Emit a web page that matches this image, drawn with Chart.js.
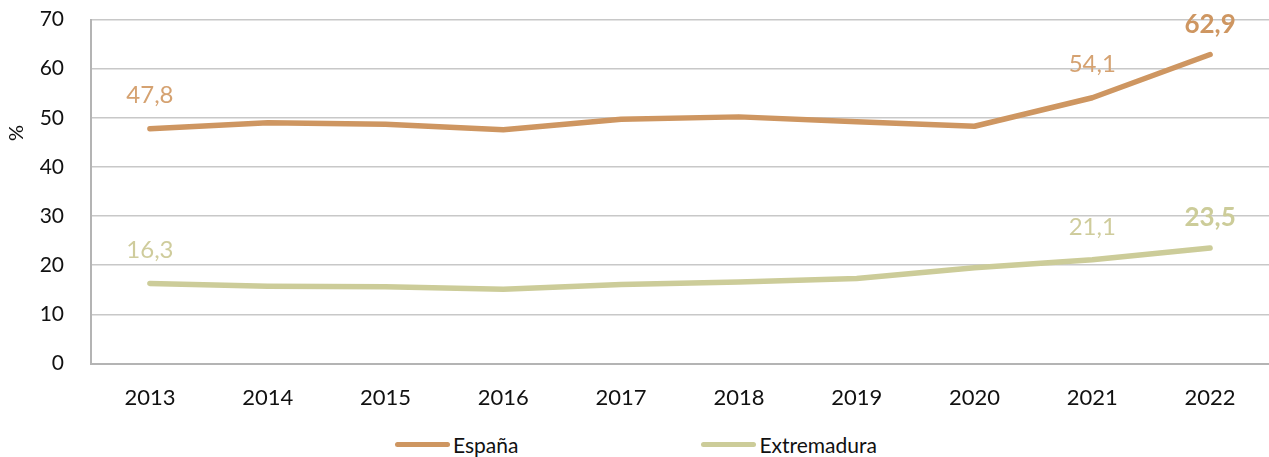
<!DOCTYPE html>
<html>
<head>
<meta charset="utf-8">
<script src="https://cdn.jsdelivr.net/npm/chart.js@4/dist/chart.umd.min.js"></script>
<style>
  body { margin: 0; background: #fff; font-family: Lato, sans-serif; overflow: hidden; }
  #wrap { position: relative; width: 1269px; height: 444px; margin-top: -20px; }
  #legend { display: flex; height: 40px; align-items: center; padding-left: 395px; font-size: 21px; color: #111; }
  .item { display: flex; align-items: center; }
  .swatch { width: 55px; height: 5px; border-radius: 3px; margin-right: 3px; }
</style>
</head>
<body>
<div id="wrap"><canvas id="myChart"></canvas></div>
<div id="legend"></div>
<script>
const years = ['2013', '2014', '2015', '2016', '2017', '2018', '2019', '2020', '2021', '2022'];
const espana = [47.8, 49.0, 48.7, 47.6, 49.7, 50.2, 49.2, 48.3, 54.1, 62.9];
const extremadura = [16.3, 15.7, 15.6, 15.1, 16.1, 16.6, 17.3, 19.5, 21.1, 23.5];
const yTicks = [0, 10, 20, 30, 40, 50, 60, 70];
// years that carry a value label, the last one in bold
const labelled = [0, 8, 9];

const series = [
    { label: 'España', data: espana, color: '#CE9661', text: '#D5A271' },
    { label: 'Extremadura', data: extremadura, color: '#CCCC99', text: '#CFCC9C' }
];

// value labels above the chosen points
const valueLabels = {
    id: 'valueLabels',
    afterDatasetsDraw(chart) {
        const ctx = chart.ctx;
        ctx.save();
        ctx.textAlign = 'center';
        ctx.textBaseline = 'middle';
        chart.data.datasets.forEach((ds, i) => {
            const meta = chart.getDatasetMeta(i);
            labelled.forEach(idx => {
                const pt = meta.data[idx];
                const last = idx === ds.data.length - 1;
                ctx.font = (last ? 'bold 26px' : '24px') + ' Lato, sans-serif';
                ctx.fillStyle = last ? ds.borderColor : series[i].text;
                const txt = ds.data[idx].toFixed(1).replace('.', ',');
                ctx.fillText(txt, pt.x, pt.y - (last ? 30 : 33));
            });
        });
        ctx.restore();
    }
};

// "%" axis name, placed in the upper part of the axis
const axisName = {
    id: 'axisName',
    afterDraw(chart) {
        const ctx = chart.ctx;
        const a = chart.chartArea;
        ctx.save();
        ctx.translate(17, a.top + (a.bottom - a.top) * 0.33);
        ctx.rotate(-Math.PI / 2);
        ctx.font = '20px Lato, sans-serif';
        ctx.fillStyle = '#111';
        ctx.textAlign = 'center';
        ctx.textBaseline = 'middle';
        ctx.fillText('%', 0, 0);
        ctx.restore();
    }
};

const ctx = document.getElementById('myChart').getContext('2d');
const myChart = new Chart(ctx, {
    type: 'line',
    data: {
        labels: years,
        datasets: series.map(s => ({
            label: s.label,
            data: s.data,
            borderColor: s.color,
            backgroundColor: s.color,
            borderWidth: 5.5,
            borderCapStyle: 'round',
            borderJoinStyle: 'round',
            pointRadius: 0,
            tension: 0,
            fill: false
        }))
    },
    options: {
        responsive: true,
        maintainAspectRatio: false,
        animation: false,
        layout: { padding: 0 },
        plugins: {
            legend: { display: false },
            tooltip: { enabled: false }
        },
        scales: {
            x: {
                offset: true,
                grid: { display: false, drawTicks: false },
                border: { color: '#B4B4B4', width: 2 },
                ticks: { color: '#111', font: { family: 'Lato', size: 22 }, padding: 21 },
                afterFit(scale) { scale.height = 60.5; }
            },
            y: {
                min: 0,
                max: 70,
                afterBuildTicks(scale) { scale.ticks = yTicks.map(v => ({ value: v })); },
                grid: { color: '#C8C8C8', lineWidth: 1.5, drawTicks: false },
                border: { color: '#B4B4B4', width: 2 },
                ticks: { color: '#111', font: { family: 'Lato', size: 21 }, padding: 27 },
                afterFit(scale) { scale.width = 91; }
            }
        }
    },
    plugins: [valueLabels, axisName]
});

// legend row under the chart
const legend = document.getElementById('legend');
series.forEach((s, i) => {
    const item = document.createElement('div');
    item.className = 'item';
    if (i > 0) item.style.marginLeft = '183px';
    item.innerHTML = '<span class="swatch" style="background:' + s.color + '"></span><span>' + s.label + '</span>';
    legend.appendChild(item);
});
</script>
</body>
</html>
